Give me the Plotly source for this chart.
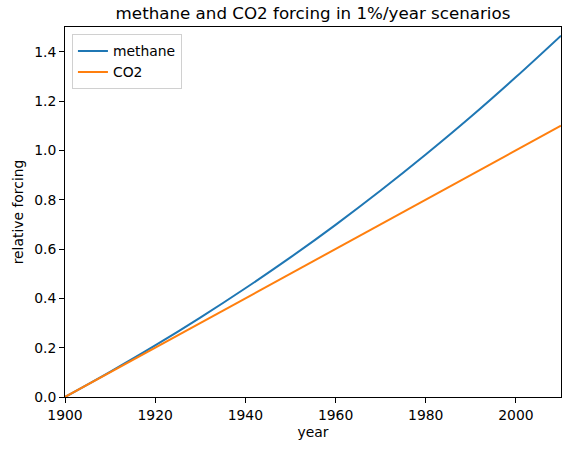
import plotly.graph_objects as go

years = [1900, 1910, 1920, 1930, 1940, 1950, 1960, 1970, 1980, 1990, 2000, 2010]
methane = [0.0, 0.102, 0.209, 0.322, 0.441, 0.566, 0.698, 0.837, 0.983, 1.136, 1.297, 1.465]
co2 = [0.0, 0.1, 0.2, 0.3, 0.4, 0.5, 0.6, 0.7, 0.8, 0.9, 1.0, 1.1]

x_ticks = [1900, 1920, 1940, 1960, 1980, 2000]
y_ticks = [0.0, 0.2, 0.4, 0.6, 0.8, 1.0, 1.2, 1.4]

fig = go.Figure()
fig.add_trace(go.Scatter(x=years, y=methane, mode="lines", name="methane",
                         line=dict(color="#1f77b4", width=2), line_shape="spline"))
fig.add_trace(go.Scatter(x=years, y=co2, mode="lines", name="CO2",
                         line=dict(color="#ff7f0e", width=2)))

axis_common = dict(showgrid=False, zeroline=False, showline=True, linecolor="black",
                   linewidth=1, mirror=True, ticks="outside", ticklen=5, tickcolor="black",
                   tickfont=dict(size=13.9, color="black"))

fig.update_layout(
    width=588, height=452,
    margin=dict(l=65, r=27, t=27, b=55),
    paper_bgcolor="white", plot_bgcolor="white",
    font=dict(family="DejaVu Sans", color="black"),
    title=dict(text="methane and CO2 forcing in 1%/year scenarios", x=0.5, xref="paper",
               y=1 - 13/452, yanchor="middle", font=dict(size=16.7)),
    xaxis=dict(range=[1900, 2010], tickvals=x_ticks,
               title=dict(text="year", font=dict(size=13.9), standoff=5), **axis_common),
    yaxis=dict(range=[0, 1.5], tickvals=y_ticks, tickformat=".1f",
               title=dict(text="relative forcing", font=dict(size=13.9), standoff=7), **axis_common),
    legend=dict(x=0.014, y=0.98, xanchor="left", yanchor="top", bgcolor="white",
                bordercolor="#d0d0d0", borderwidth=1, font=dict(size=13.9),
                tracegroupgap=0),
    showlegend=True,
)

fig.write_html("out.html", config={"displayModeBar": False},
               post_script="document.body.style.margin='0';document.body.style.padding='0';")
